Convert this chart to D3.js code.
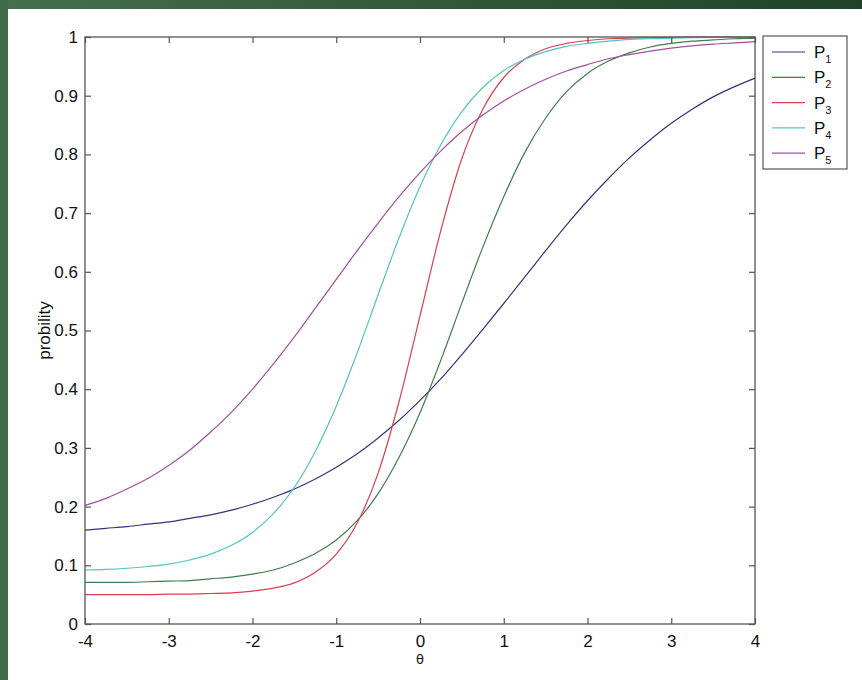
<!DOCTYPE html>
<html>
<head>
<meta charset="utf-8">
<script src="https://cdn.jsdelivr.net/npm/d3@7"></script>
<style>
  body { margin: 0; background: #fff; }
  svg { display: block; }
  text { font-family: "Liberation Sans", Arial, sans-serif; fill: #111; }
</style>
</head>
<body>
<svg id="chart" width="862" height="680"></svg>
<script>
// theta grid
var theta = [-4, -3.75, -3.5, -3.25, -3, -2.75, -2.5, -2.25, -2, -1.75, -1.5, -1.25, -1, -0.75, -0.5, -0.25,
             0, 0.25, 0.5, 0.75, 1, 1.25, 1.5, 1.75, 2, 2.25, 2.5, 2.75, 3, 3.25, 3.5, 3.75, 4];

// probability curves
var p1 = [0.160, 0.163, 0.166, 0.170, 0.174, 0.180, 0.186, 0.194, 0.204, 0.216, 0.230, 0.247, 0.267, 0.290, 0.317, 0.347,
          0.381, 0.418, 0.459, 0.502, 0.546, 0.591, 0.636, 0.680, 0.721, 0.759, 0.794, 0.825, 0.853, 0.877, 0.898, 0.915, 0.930];
var p2 = [0.071, 0.071, 0.071, 0.072, 0.073, 0.074, 0.077, 0.080, 0.085, 0.092, 0.104, 0.120, 0.143, 0.176, 0.222, 0.284,
          0.360, 0.450, 0.547, 0.642, 0.728, 0.803, 0.862, 0.907, 0.938, 0.959, 0.973, 0.983, 0.989, 0.993, 0.995, 0.997, 0.998];
var p3 = [0.050, 0.050, 0.050, 0.050, 0.051, 0.051, 0.052, 0.053, 0.056, 0.061, 0.070, 0.088, 0.119, 0.172, 0.257, 0.379,
          0.525, 0.671, 0.793, 0.877, 0.931, 0.962, 0.980, 0.989, 0.994, 0.997, 0.998, 0.999, 0.9995, 0.9997, 0.9999, 0.9999, 1.0];
var p4 = [0.092, 0.093, 0.095, 0.098, 0.102, 0.109, 0.119, 0.134, 0.156, 0.188, 0.233, 0.294, 0.371, 0.462, 0.561, 0.658,
          0.745, 0.817, 0.873, 0.914, 0.943, 0.962, 0.975, 0.984, 0.989, 0.993, 0.996, 0.997, 0.998, 0.9988, 0.9992, 0.9995, 0.9997];
var p5 = [0.202, 0.214, 0.230, 0.248, 0.270, 0.296, 0.327, 0.361, 0.400, 0.443, 0.489, 0.538, 0.587, 0.636, 0.683, 0.728,
          0.769, 0.806, 0.839, 0.867, 0.891, 0.911, 0.928, 0.942, 0.953, 0.963, 0.970, 0.976, 0.981, 0.985, 0.988, 0.990, 0.992];

var names = ["1", "2", "3", "4", "5"];
var colors = ["#34347c", "#3f7d4c", "#d8404f", "#55c2c4", "#a24f9e"];
var xTicks = [-4, -3, -2, -1, 0, 1, 2, 3, 4];
var yTicks = [0, 0.1, 0.2, 0.3, 0.4, 0.5, 0.6, 0.7, 0.8, 0.9, 1];

var series = [p1, p2, p3, p4, p5];

svg = d3.select("#chart");

// slide background
defs = svg.append("defs");
grad = defs.append("linearGradient").attr("id", "bg")
    .attr("x1", 0).attr("y1", 0).attr("x2", 1).attr("y2", 0);
grad.append("stop").attr("offset", 0).attr("stop-color", "#456f4b");
grad.append("stop").attr("offset", 1).attr("stop-color", "#1f4229");
svg.append("rect").attr("width", 862).attr("height", 680).attr("fill", "url(#bg)");
svg.append("rect").attr("x", 0).attr("y", 0).attr("width", 8).attr("height", 680).attr("fill", "#3e6b47");
svg.append("rect").attr("x", 8).attr("y", 9).attr("width", 854).attr("height", 671).attr("fill", "#fff");

var x = d3.scaleLinear().domain([-4, 4]).range([85, 755]);
var y = d3.scaleLinear().domain([0, 1]).range([624, 37]);

var axisColor = "#555";

// curves
line = d3.line()
    .x(function(d, i) { return x(theta[i]); })
    .y(function(d) { return y(d); })
    .curve(d3.curveMonotoneX);

svg.append("g").selectAll("path")
    .data(series)
    .enter().append("path")
        .attr("d", line)
        .attr("fill", "none")
        .attr("stroke", function(d, i) { return colors[i]; })
        .attr("stroke-width", 1.2);

// box + inward ticks on all sides
svg.append("rect")
    .attr("x", x(-4)).attr("y", y(1))
    .attr("width", x(4) - x(-4)).attr("height", y(0) - y(1))
    .attr("fill", "none").attr("stroke", axisColor).attr("stroke-width", 1.3);

var plain = function(d) { return String(d); };  // hyphen minus like matlab

gx = svg.append("g").attr("transform", "translate(0," + y(0) + ")")
    .call(d3.axisBottom(x).tickValues(xTicks).tickSize(-6).tickPadding(9).tickFormat(plain));
gxt = svg.append("g").attr("transform", "translate(0," + y(1) + ")")
    .call(d3.axisTop(x).tickValues(xTicks).tickSize(-6).tickFormat(""));
gy = svg.append("g").attr("transform", "translate(" + x(-4) + ",0)")
    .call(d3.axisLeft(y).tickValues(yTicks).tickSize(-6).tickPadding(7).tickFormat(plain));
gyr = svg.append("g").attr("transform", "translate(" + x(4) + ",0)")
    .call(d3.axisRight(y).tickValues(yTicks).tickSize(-6).tickFormat(""));

[gx, gxt, gy, gyr].forEach(function(g) {
    g.select(".domain").remove();
    g.selectAll(".tick line").attr("stroke", axisColor).attr("stroke-width", 1.2);
    g.selectAll(".tick text")
        .attr("fill", "#111")
        .style("font-family", "'Liberation Sans', Arial, sans-serif")
        .style("font-size", "17px");
});
gx.selectAll(".tick text").attr("dy", "0.8em");

// axis labels
svg.append("text")
    .attr("x", x(0)).attr("y", 664)
    .attr("text-anchor", "middle")
    .style("font-family", "'DejaVu Sans', sans-serif")
    .style("font-size", "13px")
    .text("θ");
svg.append("text")
    .attr("transform", "translate(50," + y(0.5) + ") rotate(-90)")
    .attr("text-anchor", "middle")
    .style("font-size", "17px")
    .text("probility");

// legend
legend = svg.append("g");
legend.append("rect")
    .attr("x", 763).attr("y", 36).attr("width", 84).attr("height", 133)
    .attr("fill", "#fff").attr("stroke", axisColor).attr("stroke-width", 1.2);
item = legend.selectAll("g.item")
    .data(names)
    .enter().append("g")
        .attr("class", "item")
        .attr("transform", function(d, i) { return "translate(0," + (52 + i * 25.3) + ")"; });
item.append("line")
    .attr("x1", 772).attr("x2", 805)
    .attr("stroke", function(d, i) { return colors[i]; })
    .attr("stroke-width", 1.2);
t = item.append("text")
    .attr("x", 814).attr("y", 6)
    .style("font-size", "17px");
t.append("tspan").text("P");
t.append("tspan").attr("dy", 5).style("font-size", "11px").text(function(d) { return d; });
</script>
</body>
</html>
